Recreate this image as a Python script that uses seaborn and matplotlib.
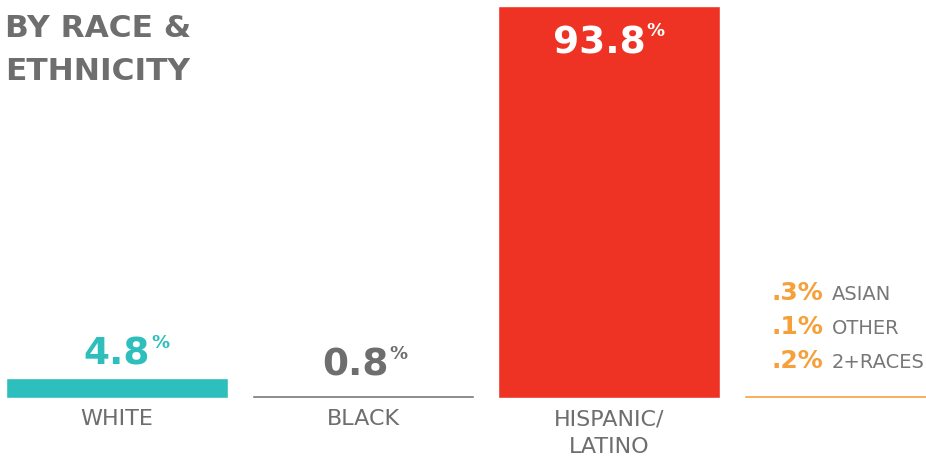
import matplotlib
matplotlib.use("Agg")
import matplotlib.pyplot as plt
import seaborn as sns
import pandas as pd

# ---- data ----
categories = ["WHITE", "BLACK", "HISPANIC/\nLATINO", "OTHERS"]
values = [4.8, 0.8, 93.8, 0.6]
value_labels = ["4.8", "0.8", "93.8", ""]
other_labels = ["ASIAN", "OTHER", "2+RACES"]
other_values = [".3%", ".1%", ".2%"]
title = "BY RACE &\nETHNICITY"

colors = ["#2EBFBD", "#747474", "#EE3224", "#F5A03A"]
label_colors = ["#2EBFBD", "#6E6E6E", "#FFFFFF"]

sns.set_theme(style="white")
plt.rcParams["font.family"] = ["DejaVu Sans"]

W, H = 926, 459
fig = plt.figure(figsize=(W / 100, H / 100), dpi=100)
ax = fig.add_axes([6 / W, 61 / H, 920 / W, 392 / H])

bar_w = 222 / 246
df = pd.DataFrame({"cat": categories, "val": values})
sns.barplot(data=df, x="cat", y="val", hue="cat", palette=colors,
            width=bar_w, legend=False, ax=ax, saturation=1)
ax.set_xlim(-bar_w / 2, -bar_w / 2 + 920 / 246)
ax.set_ylim(0, 93.8)
ax.axis("off")

# value labels (number + superscript %)
num_offsets = [(0, 13), (-8, 19), (-10, 345)]
num_texts = []
for i, (lab, v) in enumerate(zip(value_labels[:3], values[:3])):
    dx, dy = num_offsets[i]
    anchor_y = 0 if i == 2 else v
    t = ax.annotate(lab, xy=(i, anchor_y), xycoords="data", xytext=(dx, dy),
                    textcoords="offset pixels", ha="center", va="baseline",
                    fontsize=27, fontweight="bold", color=label_colors[i])
    num_texts.append(t)

# category labels (va=baseline refers to the last line)
for i, cat in enumerate(categories[:3]):
    nlines = cat.count("\n") + 1
    ax.annotate(cat, xy=(i, 0), xycoords="data",
                xytext=(0, -27 - 28 * (nlines - 1)),
                textcoords="offset pixels", ha="center", va="baseline",
                fontsize=16, color="#6E6E6E", linespacing=1.49)

# title
fig.text(5 / W, 1 - 80 / H, title, ha="left", va="baseline", fontsize=22.5,
         fontweight="bold", color="#6E6E6E", linespacing=1.62)

fig.canvas.draw()
r = fig.canvas.get_renderer()
for i, t in enumerate(num_texts):
    bb = t.get_window_extent(r)
    fig.text((bb.x1 + 1) / W, (bb.y1 + 3) / H, "%", ha="left", va="top",
             fontsize=13, fontweight="bold", color=label_colors[i])

# other breakdown
base_x = 3 - bar_w / 2
val_texts = []
for k, (vl, nm) in enumerate(zip(other_values, other_labels)):
    t = ax.annotate(vl, xy=(base_x, values[3]), xycoords="data",
                    xytext=(27, 95 - 34 * k), textcoords="offset pixels",
                    ha="left", va="baseline", fontsize=18, fontweight="bold",
                    color="#F5A03A")
    val_texts.append((t, nm))
fig.canvas.draw()
for t, nm in val_texts:
    bb = t.get_window_extent(r)
    pos = ax.transData.transform((base_x, values[3]))
    fig.text((bb.x1 + 9) / W, (pos[1] + t.xyann[1]) / H, nm, ha="left",
             va="baseline", fontsize=14, color="#777777")

fig.savefig("out.png", dpi=100)
